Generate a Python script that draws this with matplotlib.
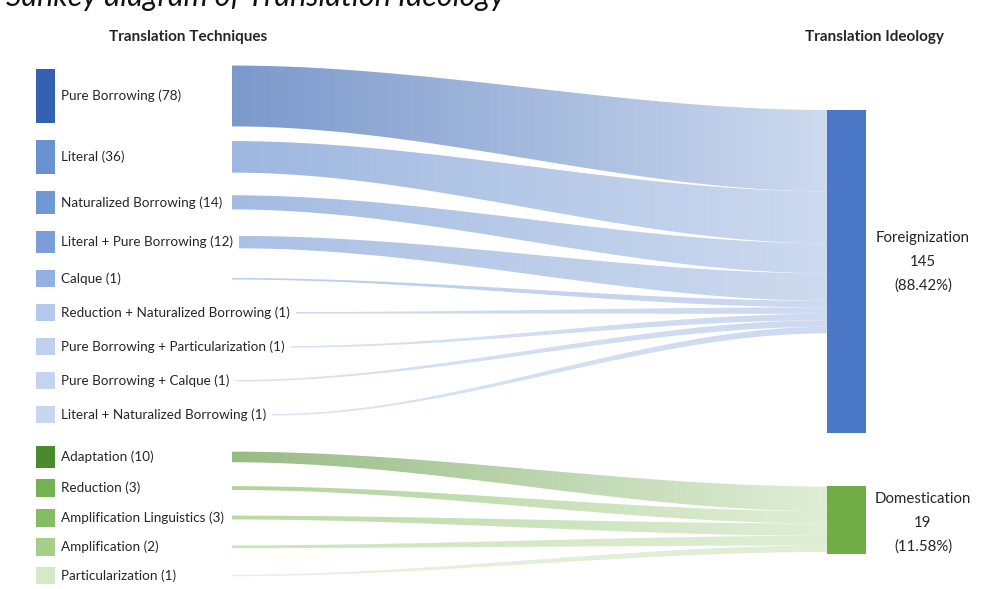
import numpy as np
import matplotlib.pyplot as plt
from matplotlib.path import Path
from matplotlib.patches import PathPatch, Rectangle
from matplotlib.colors import to_rgb

# data
techniques = ['Pure Borrowing', 'Literal', 'Naturalized Borrowing', 'Literal + Pure Borrowing',
              'Calque', 'Reduction + Naturalized Borrowing', 'Pure Borrowing + Particularization',
              'Pure Borrowing + Calque', 'Literal + Naturalized Borrowing',
              'Adaptation', 'Reduction', 'Amplification Linguistics', 'Amplification',
              'Particularization']
technique_counts = [78, 36, 14, 12, 1, 1, 1, 1, 1, 10, 3, 3, 2, 1]
technique_target = [0] * 9 + [1] * 5
ideologies = ['Foreignization', 'Domestication']
ideology_counts = [145, 19]
ideology_pct = [88.42, 11.58]

box_colors = ['#3562b0', '#6a91d0', '#7298d4', '#7d9fd7', '#93b1e0', '#b4c9ec', '#bfd0ef',
              '#c3d3f0', '#c7d6f1', '#4a8a2c', '#77b252', '#86bd64', '#a5d08a', '#d5e8c8']
node_colors = ['#4a78c6', '#70ad47']
flow_end_colors = ['#cddaef', '#dfeed5']

W, H = 984, 589
plt.rcParams['font.family'] = ['Lato', 'DejaVu Sans']

fig = plt.figure(figsize=(W / 100, H / 100), dpi=100)
ax = fig.add_axes([0, 0, 1, 1])


def mix(c, w):
    r = np.array(to_rgb(c))
    return r + (1 - r) * w


# layout of the left column (stacked from the values)
box_x, box_w = 36, 19
gaps = [17, 11.5]
y = 69
tops, heights = [], []
for i, v in enumerate(technique_counts):
    if i > 0:
        y += 23 if technique_target[i] != technique_target[i - 1] else gaps[technique_target[i]]
    h = 17 + 0.48 * (v - 1)
    tops.append(y)
    heights.append(h)
    y += h

# right column
node_x, node_w = 827, 39
node_tops, node_h = [], []
y = 110
for v in ideology_counts:
    h = 6.87 * v ** 0.774
    node_tops.append(y)
    node_h.append(h)
    y += h + 53

# left boxes and labels
labels = []
for i, name in enumerate(techniques):
    ax.add_patch(Rectangle((box_x, tops[i]), box_w, heights[i], color=box_colors[i], lw=0))
    t = ax.text(box_x + box_w + 6, tops[i] + heights[i] / 2, f'{name} ({technique_counts[i]})',
                ha='left', va='center', fontsize=9.7, color='#262626')
    labels.append(t)

ax.set_xlim(0, W)
ax.set_ylim(H, 0)
fig.canvas.draw()
renderer = fig.canvas.get_renderer()
inv = ax.transData.inverted()

# flows
stack = list(node_tops)
tt = np.linspace(0, 1, 120)
s = 3 * tt ** 2 - 2 * tt ** 3
for i, v in enumerate(technique_counts):
    k = technique_target[i]
    bb = labels[i].get_window_extent(renderer)
    x_end = inv.transform((bb.x1, bb.y0))[0]
    x0 = max(232, x_end + 6)
    x1 = node_x
    wl = 1.5 * v ** 0.85
    wr = 6.5 * v ** 0.58
    yc = tops[i] + heights[i] / 2
    t0, b0 = yc - wl / 2, yc + wl / 2
    t1 = stack[k]
    b1 = t1 + wr
    stack[k] = b1
    xs = x0 + (x1 - x0) * tt
    top = t0 + (t1 - t0) * s
    bot = b0 + (b1 - b0) * s
    verts = np.concatenate([np.column_stack([xs, top]), np.column_stack([xs[::-1], bot[::-1]])])
    path = Path(np.vstack([verts, verts[:1]]), closed=True)
    patch = PathPatch(path, facecolor='none', edgecolor='none')
    ax.add_patch(patch)
    c0 = mix(box_colors[i], 0.35 if k == 0 else 0.42)
    c1 = np.array(to_rgb(flow_end_colors[k]))
    g = np.linspace(0, 1, 256)[:, None]
    grad = (c0[None, :] * (1 - g) + c1[None, :] * g)[None, :, :]
    im = ax.imshow(grad, extent=[x0, x1, max(bot.max(), top.max()) + 1, min(top.min(), bot.min()) - 1],
                   aspect='auto', interpolation='bilinear', zorder=1)
    im.set_clip_path(patch)

# right nodes and labels
label_shift = [-10, 3]
for k, name in enumerate(ideologies):
    ax.add_patch(Rectangle((node_x, node_tops[k]), node_w, node_h[k], color=node_colors[k], lw=0, zorder=2))
    cy = node_tops[k] + node_h[k] / 2 + label_shift[k]
    cx = node_x + node_w + 57
    for j, line in enumerate([name, str(ideology_counts[k]), f'({ideology_pct[k]:.2f}%)']):
        ax.text(cx, cy + (j - 1) * 24, line, ha='center', va='center', fontsize=10.8, color='#262626')

# headers and title
ax.text(188, 37, 'Translation Techniques', ha='center', va='center', fontsize=11, fontweight='bold', color='#262626')
ax.text(874, 37, 'Translation Ideology', ha='center', va='center', fontsize=11, fontweight='bold', color='#262626')
ax.text(6, 6, 'Sankey diagram of Translation Ideology', ha='left', va='baseline', fontsize=22,
        style='italic', color='#111111')

ax.set_xlim(0, W)
ax.set_ylim(H, 0)
ax.axis('off')
fig.savefig('out.png', dpi=100, facecolor='white')
